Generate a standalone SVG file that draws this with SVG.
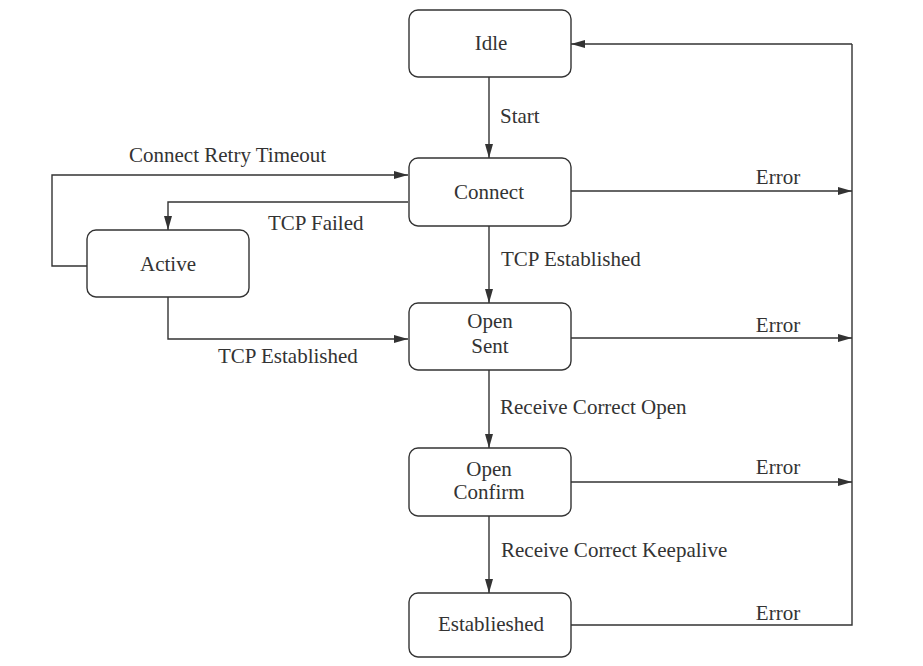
<svg xmlns="http://www.w3.org/2000/svg" width="923" height="666" viewBox="0 0 923 666">
<defs>
<marker id="arr" markerWidth="14" markerHeight="8" refX="14" refY="4" orient="auto" markerUnits="userSpaceOnUse">
<path d="M0,0 L14,4 L0,8 Z" fill="#333"/>
</marker>
<style>
.node rect{fill:#fff;stroke:#333;stroke-width:1.4}
text{font-family:"Liberation Serif","Times New Roman",serif;font-size:21px;fill:#333}
.c{text-anchor:middle}
.conn path{fill:none;stroke:#333;stroke-width:1.4}
.a{marker-end:url(#arr)}
</style>
</defs>
<rect width="923" height="666" fill="#fff"/>
<g class="conn">
<path class="a" d="M489,77 V158"/>
<path class="a" d="M489,226 V303"/>
<path class="a" d="M489,370 V448"/>
<path class="a" d="M489,516 V593"/>
<path class="a" d="M87,266 H52 V175 H408"/>
<path class="a" d="M408,202 H168 V230"/>
<path class="a" d="M168,297 V339 H408"/>
<path class="a" d="M571,191 H852"/>
<path class="a" d="M571,338 H852"/>
<path class="a" d="M571,482 H852"/>
<path d="M571,625 H852 V44"/>
<path class="a" d="M852,44 H571"/>
<text x="500" y="123">Start</text>
<text x="501" y="266">TCP Established</text>
<text x="500" y="414">Receive Correct Open</text>
<text x="501" y="557">Receive Correct Keepalive</text>
<text x="129" y="162">Connect Retry Timeout</text>
<text x="268" y="230">TCP Failed</text>
<text x="218" y="363">TCP Established</text>
<text x="778" y="184" class="c">Error</text>
<text x="778" y="332" class="c">Error</text>
<text x="778" y="474" class="c">Error</text>
<text x="778" y="620" class="c">Error</text>
</g>
<g id="idle" class="node"><rect x="409" y="10" width="162" height="67" rx="9"/><text x="491" y="50" class="c">Idle</text></g>
<g id="connect" class="node"><rect x="409" y="158" width="162" height="68" rx="9"/><text x="489" y="199" class="c">Connect</text></g>
<g id="active" class="node"><rect x="87" y="230" width="162" height="67" rx="9"/><text x="168" y="271" class="c">Active</text></g>
<g id="opensent" class="node"><rect x="409" y="303" width="162" height="67" rx="9"/><text x="490" y="328" class="c">Open</text><text x="490" y="353" class="c">Sent</text></g>
<g id="openconfirm" class="node"><rect x="409" y="448" width="162" height="68" rx="9"/><text x="489" y="476" class="c">Open</text><text x="489" y="499" class="c">Confirm</text></g>
<g id="established" class="node"><rect x="409" y="593" width="162" height="64" rx="9"/><text x="491" y="631" class="c">Establieshed</text></g>
</svg>
